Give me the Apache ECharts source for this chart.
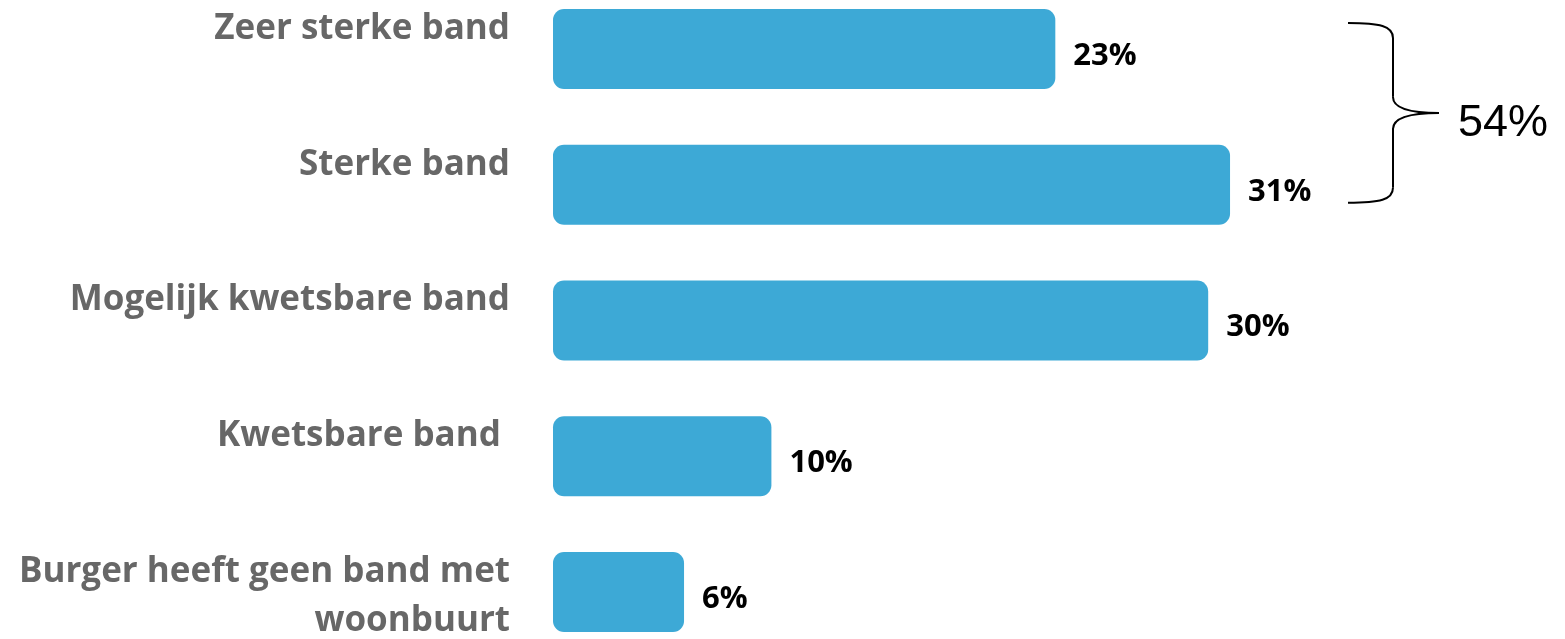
<!DOCTYPE html>
<html>
<head>
<meta charset="utf-8">
<script src="https://cdn.jsdelivr.net/npm/echarts@6/dist/echarts.min.js"></script>
<style>
html,body{margin:0;padding:0;background:#fff;}
#c{width:1565px;height:639px;}
</style>
</head>
<body>
<div id="c"></div>
<script>
const categories = ['Zeer sterke band', 'Sterke band', 'Mogelijk kwetsbare band', 'Kwetsbare band ', 'Burger heeft geen band met\nwoonbuurt'];
const values = [23, 31, 30, 10, 6];
const bracketLabel = '54%';
const bracketGroup = [0, 1];

const FONT = '"Open Sans"';
const chart = echarts.init(document.getElementById('c'), null, {renderer: 'canvas'});
chart.setOption({
  animation: false,
  backgroundColor: '#ffffff',
  grid: {left: 553, top: 49, width: 873.6, height: 544, containLabel: false},
  xAxis: {type: 'value', min: 0, max: 40, show: false},
  yAxis: {
    type: 'category',
    data: categories,
    inverse: true,
    boundaryGap: false,
    axisLine: {show: false},
    axisTick: {show: false},
    splitLine: {show: false},
    axisLabel: {
      margin: 43,
      formatter: function (v) {
        if (v.indexOf('\n') >= 0) {
          return v.split('\n').map(s => '{b|' + s + '}').join('\n');
        }
        return '{a|' + v + '}';
      },
      rich: {
        a: {fontFamily: FONT, fontWeight: 'bold', fontSize: 35, color: '#676767', padding: [0, 0, 40, 0]},
        b: {fontFamily: FONT, fontWeight: 'bold', fontSize: 35, color: '#676767', lineHeight: 49, padding: [10, 0, 0, 0]}
      }
    }
  },
  series: [{
    type: 'bar',
    data: values,
    barWidth: 80,
    itemStyle: {color: '#3DA9D6', borderRadius: 11},
    label: {
      show: true,
      position: 'right',
      distance: 18,
      offset: [0, 7],
      formatter: '{c}%',
      fontFamily: FONT,
      fontWeight: 'bold',
      fontSize: 31,
      color: '#000000'
    }
  }]
});

const cTop = chart.convertToPixel({yAxisIndex: 0}, categories[bracketGroup[0]]);
const cBot = chart.convertToPixel({yAxisIndex: 0}, categories[bracketGroup[1]]);
const x0 = chart.convertToPixel({xAxisIndex: 0}, 36.4);
const x1 = x0 + 45, x2 = x0 + 91;
const yT = cTop - 26, yB = cBot + 18, tip = (yT + yB) / 2;
const ls = {stroke: '#000', lineWidth: 2, fill: null};
chart.setOption({
  graphic: [
    {type: 'bezierCurve', shape: {x1: x0, y1: yT, cpx1: x0 + 32, cpy1: yT, cpx2: x1, cpy2: yT + 3, x2: x1, y2: yT + 15}, style: ls},
    {type: 'line', shape: {x1: x1, y1: yT + 15, x2: x1, y2: tip - 16}, style: ls},
    {type: 'bezierCurve', shape: {x1: x1, y1: tip - 16, cpx1: x1, cpy1: tip - 4, cpx2: x1 + 20, cpy2: tip, x2: x2, y2: tip}, style: ls},
    {type: 'bezierCurve', shape: {x1: x2, y1: tip, cpx1: x1 + 20, cpy1: tip, cpx2: x1, cpy2: tip + 4, x2: x1, y2: tip + 16}, style: ls},
    {type: 'line', shape: {x1: x1, y1: tip + 16, x2: x1, y2: yB - 15}, style: ls},
    {type: 'bezierCurve', shape: {x1: x1, y1: yB - 15, cpx1: x1, cpy1: yB - 3, cpx2: x0 + 32, cpy2: yB, x2: x0, y2: yB}, style: ls},
    {type: 'text', x: x2 + 19, y: tip + 11, style: {text: bracketLabel, font: 'normal 45px "Liberation Sans"', fill: '#000', verticalAlign: 'middle', align: 'left'}}
  ]
});
</script>
</body>
</html>
